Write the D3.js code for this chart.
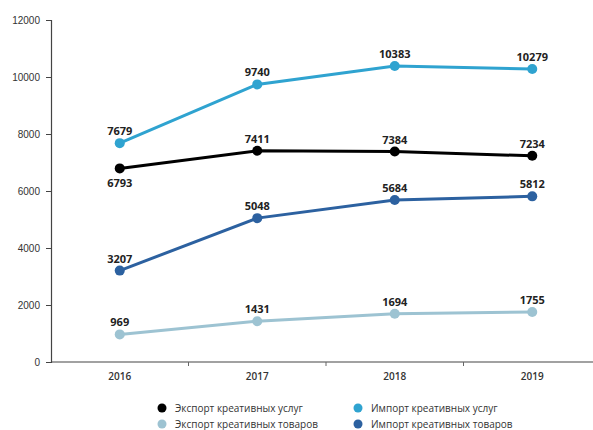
<!DOCTYPE html>
<html>
<head>
<meta charset="utf-8">
<script src="https://cdn.jsdelivr.net/npm/d3@7/dist/d3.min.js"></script>
<style>
  html, body { margin: 0; padding: 0; background: #fff; }
  svg { display: block; font-family: "Open Sans", "DejaVu Sans", sans-serif; }
</style>
</head>
<body>
<svg id="chart" width="593" height="430"></svg>
<script>
// Years on the x axis
const years = ["2016", "2017", "2018", "2019"];

// Series values
const exportServices = [6793, 7411, 7384, 7234];
const importServices = [7679, 9740, 10383, 10279];
const exportGoods = [969, 1431, 1694, 1755];
const importGoods = [3207, 5048, 5684, 5812];

// Y axis tick values
const yTicks = [0, 2000, 4000, 6000, 8000, 10000, 12000];

// Series names as shown in the legend
const seriesNames = [
  "Экспорт креативных услуг",
  "Импорт креативных услуг",
  "Экспорт креативных товаров",
  "Импорт креативных товаров"
];

const series = [
  { name: seriesNames[0], values: exportServices, color: "#000000", below: [0] },
  { name: seriesNames[1], values: importServices, color: "#2fa3d0", below: [] },
  { name: seriesNames[2], values: exportGoods, color: "#9dc3d2", below: [] },
  { name: seriesNames[3], values: importGoods, color: "#2c61a0", below: [] }
];

const svg = d3.select("#chart");

const x = d3.scaleBand().domain(years).range([51, 601]).paddingInner(0).paddingOuter(0);
const y = d3.scaleLinear().domain([0, 12000]).range([362, 20]);

// Y axis
const yAxis = svg.append("g").attr("transform", "translate(51,0)")
  .call(d3.axisLeft(y).tickValues(yTicks).tickSize(5).tickPadding(6).tickFormat(d3.format("d")));
yAxis.select(".domain").attr("stroke", "#444").attr("stroke-width", 1.2);
yAxis.selectAll(".tick line").attr("stroke", "#444");
yAxis.selectAll(".tick text").attr("fill", "#333").attr("font-size", 10);

// X axis: baseline, ticks between the year bands, labels at band centres
const xg = svg.append("g");
xg.append("line").attr("x1", 51).attr("x2", 593).attr("y1", y(0)).attr("y2", y(0))
  .attr("stroke", "#444").attr("stroke-width", 1.2);
xg.selectAll("line.tk").data(years.slice(1)).join("line").attr("class", "tk")
  .attr("x1", d => x(d)).attr("x2", d => x(d))
  .attr("y1", y(0)).attr("y2", y(0) + 4).attr("stroke", "#666");
xg.selectAll("text").data(years).join("text")
  .attr("x", d => x(d) + x.bandwidth() / 2).attr("y", y(0) + 18)
  .attr("text-anchor", "middle").attr("font-size", 10).attr("font-weight", 600)
  .attr("fill", "#333").text(d => d);

const cx = d => x(d) + x.bandwidth() / 2;
const line = d3.line().x((d, i) => cx(years[i])).y(d => y(d));

// Lines, markers and value labels
series.forEach(s => {
  const g = svg.append("g");
  g.append("path").datum(s.values).attr("d", line)
    .attr("fill", "none").attr("stroke", s.color).attr("stroke-width", 3);
  g.selectAll("circle").data(s.values).join("circle")
    .attr("cx", (d, i) => cx(years[i])).attr("cy", d => y(d)).attr("r", 5)
    .attr("fill", s.color);
  g.selectAll("text").data(s.values).join("text")
    .attr("x", (d, i) => cx(years[i]))
    .attr("y", (d, i) => s.below.includes(i) ? y(d) + 19 : y(d) - 8)
    .attr("text-anchor", "middle").attr("font-size", 11).attr("font-weight", 700)
    .attr("fill", "#222").text(d => d);
});

// Legend
const legendPos = [
  { x: 162, y: 408 }, { x: 358, y: 408 },
  { x: 162, y: 424 }, { x: 358, y: 424 }
];
series.forEach((s, i) => {
  const p = legendPos[i];
  svg.append("circle").attr("cx", p.x).attr("cy", p.y).attr("r", 4.5).attr("fill", s.color);
  svg.append("text").attr("x", p.x + 13).attr("y", p.y + 3.5)
    .attr("font-size", 10).attr("fill", "#333").text(s.name);
});
</script>
</body>
</html>
